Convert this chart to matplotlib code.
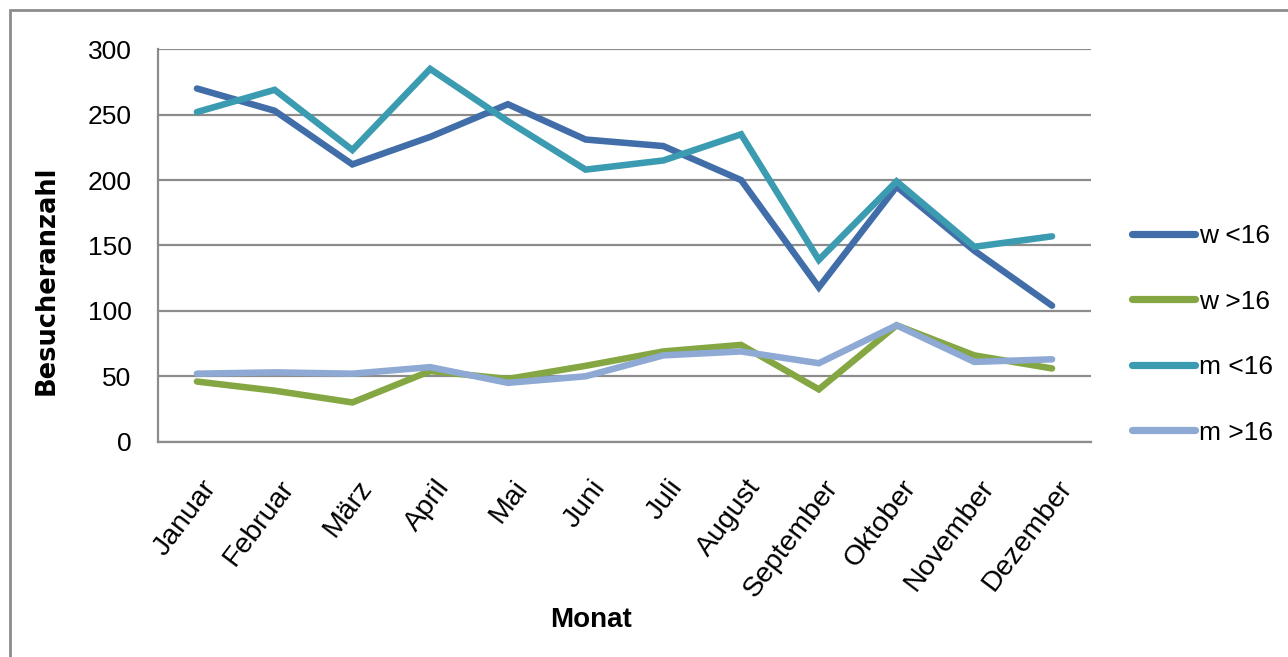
import matplotlib

matplotlib.use("Agg")
import matplotlib.pyplot as plt
from matplotlib.patches import Rectangle
from matplotlib.transforms import ScaledTranslation

months = ["Januar", "Februar", "März", "April", "Mai", "Juni", "Juli",
          "August", "September", "Oktober", "November", "Dezember"]

w_under16 = [270, 253, 212, 233, 258, 231, 226, 200, 118, 195, 146, 104]
w_over16 = [46, 39, 30, 54, 48, 58, 69, 74, 40, 89, 66, 56]
m_under16 = [252, 269, 223, 285, 245, 208, 215, 235, 139, 199, 149, 157]
m_over16 = [52, 53, 52, 57, 45, 50, 66, 69, 60, 89, 61, 63]

series = [
    ("w <16", w_under16, "#416ea8"),
    ("w >16", w_over16, "#84a743"),
    ("m <16", m_under16, "#3b9bb0"),
    ("m >16", m_over16, "#8ea9d3"),
]

plt.rcParams["font.family"] = ["Liberation Sans", "DejaVu Sans"]

fig = plt.figure(figsize=(12.88, 6.57), dpi=100)
ax = fig.add_axes([0.1227, 0.3277, 0.847 - 0.1227, 0.925 - 0.3277])

# outer chart frame
fig.patches.append(Rectangle((10 / 1288, -0.1), 1.2, 1.1 - 10 / 657,
                             transform=fig.transFigure, fill=False,
                             edgecolor="#8c8c8c", linewidth=2.0))

x = list(range(len(months)))
for label, values, color in series:
    ax.plot(x, values, color=color, linewidth=4.7, label=label,
            solid_capstyle="round", solid_joinstyle="miter")

ax.set_xlim(-0.5, len(months) - 0.5)
ax.set_ylim(0, 300)
ax.set_yticks(range(0, 301, 50))
ax.yaxis.grid(True, color="#8c8c8c", linewidth=1.6)
ax.set_axisbelow(True)

for side in ("top", "right"):
    ax.spines[side].set_visible(False)
for side in ("left", "bottom"):
    ax.spines[side].set_color("#8c8c8c")
    ax.spines[side].set_linewidth(1.6)

ax.set_xticks(x)
ax.set_xticklabels(months, rotation=53, ha="right", va="top",
                   rotation_mode="anchor", fontsize=20.5)
ax.tick_params(axis="x", length=0, pad=24)
ax.tick_params(axis="y", length=0, pad=19, labelsize=19)
shift = ScaledTranslation(3 / 72, 0, fig.dpi_scale_trans)
for lbl in ax.get_xticklabels():
    lbl.set_transform(lbl.get_transform() + shift)

ax.set_ylabel("Besucheranzahl", fontsize=18.5, fontweight="bold",
              family=["DejaVu Sans"], va="center")
ax.yaxis.set_label_coords(-0.119, 0.41)
ax.set_xlabel("Monat", fontsize=20, fontweight="bold", va="center")
ax.xaxis.set_label_coords(0.464, -0.455)

ax.legend(loc="center left", bbox_to_anchor=(0.879, 0.491),
          bbox_transform=fig.transFigure, frameon=False, fontsize=19,
          handlelength=2.4, handletextpad=0.12, labelspacing=1.57,
          borderaxespad=0, borderpad=0)
for handle in ax.get_legend().get_lines():
    handle.set_linewidth(5.2)

fig.savefig("out.png", dpi=100)
